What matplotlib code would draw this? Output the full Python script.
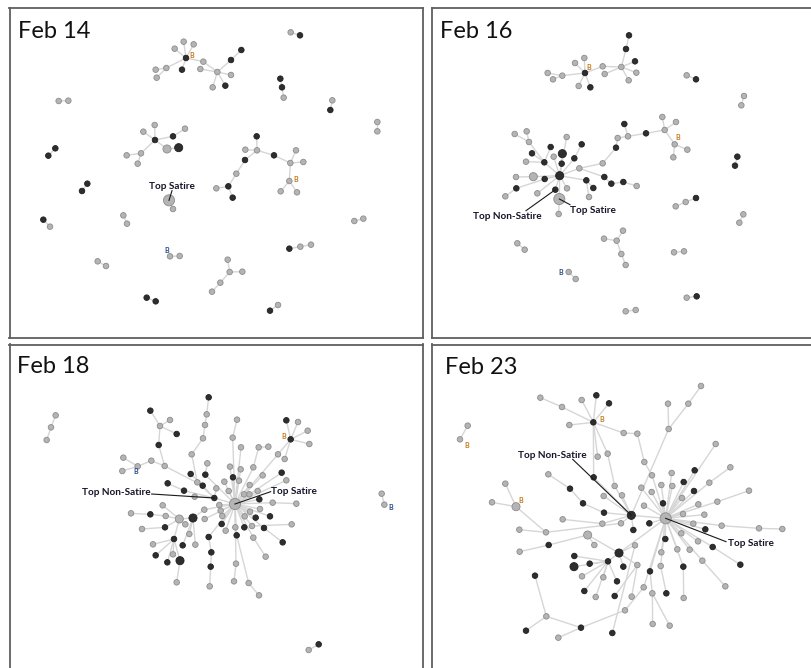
import matplotlib
matplotlib.use('Agg')
import matplotlib.pyplot as plt
from matplotlib.collections import LineCollection

plt.rcParams['font.family'] = ['Lato', 'DejaVu Sans']

# node = (x, y, kind, weight, parent) in layout units of each panel
# kind: 's' satire (grey), 'n' non-satire (dark); parent -1 = no link
feb14_nodes = [
    (872, 97, 's', 1, -1), (900, 106, 'n', 1, 0),
    (558, 174, 'n', 1, -1), (524, 146, 's', 1, 2), (551, 125, 's', 1, 2),
    (581, 133, 's', 1, 2), (546, 209, 'n', 1, 2), (499, 204, 's', 1, 2),
    (467, 209, 's', 1, 7), (470, 233, 's', 1, 7), (610, 185, 's', 1, 2),
    (652, 216, 's', 1, 10), (601, 207, 's', 1, 11), (693, 180, 'n', 1, 11),
    (724, 150, 'n', 1, 13), (693, 225, 's', 1, 11), (676, 257, 'n', 1, 11),
    (638, 262, 's', 1, 11),
    (841, 236, 'n', 1, -1), (846, 262, 'n', 1, 18), (851, 293, 's', 1, 19),
    (997, 301, 's', 1, -1), (991, 330, 'n', 1, 21),
    (1132, 366, 's', 1, -1), (1132, 394, 's', 1, 23),
    (176, 303, 's', 1, -1), (205, 302, 's', 1, 25),
    (465, 420, 'n', 1, -1), (430, 395, 's', 1, 27), (464, 375, 's', 1, 27),
    (519, 409, 'n', 1, 27), (555, 386, 's', 1, 30), (501, 447, 's', 2, 27),
    (536, 443, 'n', 2, 32), (423, 460, 's', 1, 27), (380, 466, 's', 1, 34),
    (413, 491, 's', 1, 34),
    (166, 445, 'n', 1, -1), (145, 467, 'n', 1, 37),
    (262, 551, 'n', 1, -1), (246, 573, 'n', 1, 39),
    (130, 659, 'n', 1, -1), (150, 680, 's', 1, 41),
    (507, 601, 's', 3, -1), (519, 627, 's', 1, 43),
    (370, 646, 's', 1, -1), (381, 671, 's', 1, 45),
    (770, 409, 'n', 1, 48), (771, 451, 's', 1, -1), (736, 449, 's', 1, 48),
    (822, 466, 'n', 1, 48), (871, 489, 's', 1, 50), (888, 451, 's', 1, 51),
    (910, 486, 's', 1, 51), (868, 543, 's', 1, 51), (842, 574, 's', 1, 54),
    (891, 577, 's', 1, 54), (735, 480, 'n', 1, 48), (709, 521, 's', 1, 57),
    (685, 559, 'n', 1, 58), (649, 565, 's', 1, 59), (698, 593, 'n', 1, 59),
    (1063, 663, 's', 1, -1), (1090, 656, 's', 1, 62),
    (868, 746, 'n', 1, -1), (901, 740, 's', 1, 64), (933, 734, 's', 1, 65),
    (510, 769, 's', 1, -1), (539, 768, 's', 1, 67),
    (293, 784, 's', 1, -1), (318, 798, 's', 1, 69),
    (683, 779, 's', 1, 72), (689, 816, 's', 1, -1), (727, 815, 's', 1, 72),
    (661, 848, 's', 1, 72), (636, 875, 's', 1, 74),
    (440, 893, 'n', 1, -1), (467, 904, 'n', 1, 76),
    (810, 932, 'n', 1, -1), (834, 915, 's', 1, 78),
]
feb14_extra = []
feb14_badges = [(575, 167, 'o'), (888, 537, 'o'), (500, 750, 'b')]
feb14_notes = [('Top Satire', 43, (515, 558), (516, 572))]

feb16_nodes = [
    (495, 219, 'n', 1, -1), (465, 189, 's', 1, 0), (493, 174, 's', 1, 0),
    (427, 227, 's', 1, 0), (399, 238, 's', 1, 3), (383, 219, 's', 1, 3),
    (476, 258, 's', 1, 0), (511, 262, 'n', 1, 0), (548, 199, 's', 1, 0),
    (604, 201, 's', 1, 8), (554, 222, 's', 1, 9), (618, 147, 'n', 1, 9),
    (627, 106, 'n', 1, 11), (645, 184, 'n', 1, 9), (649, 218, 's', 1, 9),
    (626, 241, 's', 1, 9),
    (800, 226, 's', 1, -1), (828, 238, 'n', 1, 16),
    (972, 288, 's', 1, -1), (964, 316, 's', 1, 18),
    (419, 527, 'n', 2, -1), (427, 461, 'n', 2, 20), (425, 491, 'n', 1, 20),
    (373, 487, 'n', 1, 20), (392, 441, 'n', 1, 23), (336, 460, 'n', 1, 23),
    (318, 485, 's', 1, 23), (327, 426, 's', 1, 23), (320, 394, 's', 1, 27),
    (284, 402, 's', 1, 27), (340, 530, 's', 2, 20), (288, 531, 's', 1, 30),
    (374, 537, 'n', 1, 20), (289, 565, 'n', 1, 32), (256, 589, 's', 1, 33),
    (352, 580, 's', 1, 20), (406, 569, 'n', 1, 20), (418, 597, 's', 3, 20),
    (416, 642, 's', 1, 37), (441, 565, 's', 1, 20), (440, 411, 's', 1, 20),
    (463, 475, 'n', 1, 20), (485, 433, 'n', 1, 41), (478, 505, 's', 1, 20),
    (499, 541, 'n', 1, 20), (520, 564, 'n', 1, 44), (507, 591, 's', 1, 44),
    (553, 531, 'n', 1, 43), (574, 551, 'n', 1, 47), (610, 546, 'n', 1, 48),
    (650, 558, 's', 1, 49), (548, 490, 's', 1, 43), (588, 443, 'n', 1, 51),
    (593, 414, 's', 1, 52), (624, 409, 's', 1, 53), (613, 372, 'n', 1, 54),
    (678, 400, 'n', 1, 54), (734, 390, 's', 1, 56), (727, 351, 's', 1, 57),
    (768, 366, 's', 1, 57), (764, 433, 's', 1, 57), (802, 449, 's', 1, 60),
    (760, 472, 's', 1, 60), (401, 470, 's', 1, 20),
    (828, 594, 'n', 1, -1), (797, 606, 's', 1, 64), (767, 619, 's', 1, 65),
    (970, 643, 's', 1, -1), (958, 668, 's', 1, 67),
    (952, 470, 'n', 1, -1), (945, 497, 'n', 1, 69),
    (609, 692, 's', 1, 72), (590, 722, 's', 1, -1), (552, 716, 's', 1, 72),
    (604, 762, 's', 1, 72), (617, 795, 's', 1, 74),
    (292, 730, 's', 1, -1), (314, 749, 's', 1, 76),
    (446, 816, 's', 1, -1), (467, 837, 's', 1, 78),
    (762, 757, 's', 1, -1), (792, 754, 's', 1, 80),
    (800, 893, 's', 1, -1), (830, 889, 'n', 1, 82),
    (617, 934, 's', 1, -1), (647, 930, 's', 1, 84),
]
feb16_extra = []
feb16_badges = [(505, 202, 'o'), (773, 412, 'o'), (423, 818, 'b')]
feb16_notes = [('Top Non-Satire', 36, (262, 648), (318, 632)),
               ('Top Satire', 37, (520, 632), (450, 614))]

feb18_nodes = [
    (705, 492, 's', 3, -1), (643, 474, 'n', 1, 0),
    (626, 172, 'n', 1, 3), (620, 223, 's', 1, 4), (615, 255, 's', 1, 5),
    (609, 295, 's', 1, 6), (575, 343, 's', 1, 7), (592, 427, 's', 1, 1),
    (622, 370, 's', 1, 9), (616, 404, 'n', 1, 0),
    (451, 212, 'n', 1, 11), (480, 258, 's', 1, 14), (510, 240, 's', 1, 11),
    (530, 282, 'n', 1, 11), (476, 315, 'n', 1, 15), (494, 378, 's', 1, 47),
    (454, 362, 's', 1, 15), (413, 379, 's', 1, 16), (370, 353, 's', 1, 17),
    (367, 393, 's', 1, 17),
    (711, 239, 's', 1, 21), (698, 293, 's', 1, 0), (723, 322, 's', 1, 0),
    (776, 322, 's', 1, 25), (805, 320, 's', 1, 23), (760, 382, 's', 1, 0),
    (859, 241, 'n', 1, 27), (872, 298, 'n', 1, 29), (894, 246, 's', 1, 27),
    (834, 343, 's', 1, 0), (923, 272, 's', 1, 27), (928, 312, 's', 1, 27),
    (854, 357, 's', 1, 27),
    (788, 406, 's', 1, 0), (845, 398, 'n', 1, 0), (859, 421, 's', 1, 0),
    (722, 388, 's', 1, 0), (690, 380, 's', 1, 0), (699, 412, 'n', 1, 0),
    (717, 422, 's', 1, 0), (673, 425, 's', 1, 0), (749, 435, 's', 1, 0),
    (773, 453, 's', 1, 0), (748, 463, 's', 1, 0), (732, 463, 's', 1, 0),
    (686, 453, 's', 1, 0), (649, 445, 's', 1, 1), (608, 437, 'n', 1, 1),
    (572, 402, 'n', 1, 47), (503, 430, 'n', 1, 50), (552, 452, 'n', 1, 1),
    (584, 470, 's', 1, 1), (658, 495, 's', 1, 0),
    (778, 478, 'n', 1, 0), (818, 488, 's', 1, 0), (889, 491, 's', 1, 54),
    (780, 507, 's', 1, 0), (810, 529, 'n', 1, 0), (767, 533, 'n', 1, 0),
    (750, 515, 's', 1, 0), (734, 529, 's', 1, 0), (756, 558, 's', 1, 0),
    (875, 553, 's', 1, 61), (733, 562, 'n', 1, 0), (706, 562, 's', 1, 0),
    (710, 586, 'n', 1, 0), (792, 564, 'n', 1, 0), (760, 593, 's', 1, 0),
    (797, 650, 's', 1, 67), (848, 607, 'n', 1, 66), (665, 552, 'n', 1, 0),
    (677, 572, 's', 1, 0), (662, 512, 's', 1, 0), (667, 528, 's', 1, 0),
    (613, 509, 's', 1, 0), (614, 537, 's', 1, 0),
    (579, 534, 'n', 2, 74), (538, 537, 's', 2, 76), (556, 553, 's', 1, 77),
    (497, 528, 's', 1, 77), (451, 523, 'n', 1, 79), (393, 520, 's', 1, 80),
    (488, 496, 's', 1, 77), (626, 591, 'n', 1, 0), (568, 582, 's', 1, 76),
    (586, 614, 's', 1, 76), (548, 616, 'n', 1, 76), (522, 597, 'n', 1, 77),
    (495, 562, 'n', 1, 77), (426, 567, 's', 1, 88), (459, 613, 's', 1, 87),
    (519, 643, 's', 1, 87), (467, 646, 'n', 1, 87), (502, 667, 'n', 1, 87),
    (540, 662, 'n', 2, 87), (530, 727, 's', 1, 94),
    (634, 637, 'n', 1, 83), (632, 680, 'n', 1, 96), (629, 739, 's', 1, 97),
    (708, 671, 's', 1, 0), (702, 724, 's', 1, 99),
    (746, 729, 's', 1, 65), (777, 766, 's', 1, 101),
    (167, 226, 's', 1, -1), (153, 262, 's', 1, 103), (140, 300, 's', 1, 104),
    (1145, 461, 's', 1, -1), (1153, 494, 's', 1, 106),
    (926, 930, 's', 1, -1), (956, 913, 'n', 1, 108),
]
feb18_extra = []
feb18_badges = [(407, 395, 'b'), (850, 290, 'o'), (1172, 503, 'b')]
feb18_notes = [('Top Non-Satire', 1, (348, 458), (455, 462)),
               ('Top Satire', 0, (883, 455), (812, 455))]

feb23_nodes = [
    (737, 535, 's', 3, -1), (634, 526, 'n', 2, 0),
    (520, 247, 'n', 1, 3), (521, 412, 'n', 1, 1),
    (361, 173, 's', 1, 5), (426, 201, 's', 1, 2), (485, 180, 's', 1, 2),
    (529, 166, 'n', 1, 2), (567, 190, 'n', 1, 2), (448, 255, 's', 1, 2),
    (611, 279, 's', 1, 2), (652, 281, 's', 1, 10), (673, 366, 's', 1, 11),
    (696, 406, 's', 1, 0), (533, 350, 's', 1, 2), (563, 341, 's', 1, 2),
    (584, 438, 's', 1, 15), (606, 466, 's', 1, 1),
    (746, 267, 's', 1, 1), (744, 191, 's', 1, 18), (805, 191, 's', 1, 18),
    (843, 138, 's', 1, 20),
    (385, 403, 's', 1, 23), (450, 446, 'n', 1, 24), (489, 490, 'n', 1, 25),
    (552, 518, 'n', 1, 1), (551, 468, 's', 1, 1), (664, 443, 's', 1, 0),
    (603, 550, 's', 1, 1), (640, 570, 'n', 1, 1), (547, 551, 's', 1, 1),
    (428, 538, 's', 1, 30), (378, 577, 's', 1, 28), (288, 500, 's', 2, 32),
    (256, 431, 's', 1, 33), (216, 487, 's', 1, 33), (298, 569, 's', 1, 32),
    (386, 615, 'n', 1, 38), (503, 585, 's', 2, 39), (597, 639, 'n', 2, 0),
    (299, 635, 's', 1, 37), (523, 615, 's', 1, 38), (564, 664, 'n', 1, 39),
    (463, 648, 'n', 1, 42), (462, 680, 'n', 2, 42), (509, 671, 'n', 1, 42),
    (486, 709, 's', 1, 42), (550, 712, 's', 1, 42), (493, 753, 'n', 1, 42),
    (527, 771, 's', 1, 42), (591, 724, 'n', 1, 42), (610, 680, 'n', 1, 39),
    (645, 616, 's', 1, 39), (652, 675, 's', 1, 39), (584, 768, 'n', 1, 53),
    (635, 770, 's', 1, 53), (671, 742, 's', 1, 0), (615, 811, 's', 1, 56),
    (483, 863, 'n', 1, 57), (415, 893, 's', 1, 58), (379, 829, 's', 1, 58),
    (318, 872, 'n', 1, 60), (345, 707, 'n', 1, 60), (577, 879, 'n', 1, 52),
    (698, 852, 's', 1, 65), (697, 760, 's', 1, 66), (690, 694, 'n', 1, 0),
    (749, 857, 's', 1, 65), (739, 760, 'n', 1, 69), (722, 678, 's', 1, 0),
    (791, 774, 's', 1, 71), (790, 680, 'n', 1, 0), (724, 637, 's', 1, 0),
    (736, 597, 'n', 1, 0), (772, 628, 's', 1, 0), (809, 629, 's', 1, 0),
    (834, 604, 's', 1, 0), (847, 662, 's', 1, 0), (916, 739, 's', 1, 77),
    (878, 621, 'n', 1, 0), (961, 674, 'n', 1, 79), (784, 580, 's', 1, 0),
    (820, 551, 's', 1, 0), (856, 568, 'n', 1, 0), (905, 557, 's', 1, 0),
    (1017, 565, 's', 1, 84), (1087, 567, 's', 1, 85), (853, 524, 's', 1, 0),
    (789, 522, 's', 1, 0), (835, 493, 's', 1, 0), (892, 485, 's', 1, 0),
    (987, 452, 's', 1, 90), (786, 474, 's', 1, 0), (729, 490, 'n', 1, 0),
    (822, 453, 'n', 1, 0), (868, 428, 's', 1, 0), (931, 382, 's', 1, 95),
    (791, 426, 'n', 1, 0), (757, 438, 's', 1, 0), (724, 435, 's', 1, 0),
    (755, 399, 's', 1, 0), (824, 391, 'n', 1, 0), (887, 312, 's', 1, 0),
    (695, 456, 's', 1, 0), (672, 497, 's', 1, 0), (688, 550, 'n', 1, 0),
    (143, 257, 's', 1, -1), (120, 298, 's', 1, 106),
]
feb23_extra = [(12, 13), (16, 1)]
feb23_badges = [(546, 238, 'o'), (140, 316, 'o'), (302, 481, 'o')]
feb23_notes = [('Top Non-Satire', 1, (397, 346), (458, 358)),
               ('Top Satire', 0, (993, 612), (918, 605))]

W, H = 811, 668
UNIT = 3  # layout units per pixel

panels = [
    dict(title='Feb 14', nodes=feb14_nodes, extra=feb14_extra, badges=feb14_badges,
         notes=feb14_notes, box=(9.5, 8, 423.5, 338), origin=(0, 0), title_at=(55, 113)),
    dict(title='Feb 16', nodes=feb16_nodes, extra=feb16_extra, badges=feb16_badges,
         notes=feb16_notes, box=(431.7, 8, 816, 338), origin=(420, 0), title_at=(60, 113)),
    dict(title='Feb 18', nodes=feb18_nodes, extra=feb18_extra, badges=feb18_badges,
         notes=feb18_notes, box=(9.5, 344.5, 423.5, 672), origin=(0, 340), title_at=(50, 100)),
    dict(title='Feb 23', nodes=feb23_nodes, extra=feb23_extra, badges=feb23_badges,
         notes=feb23_notes, box=(431.7, 344.5, 816, 672), origin=(420, 340), title_at=(75, 103)),
]

size_of = {1: 16, 2: 34, 3: 64}
face = {'s': '#b4b4b4', 'n': '#2e2e2e'}
edge = {'s': '#8c8c8c', 'n': '#1e1e1e'}
badge_col = {'o': '#c47a1e', 'b': '#2a4a8a'}

fig = plt.figure(figsize=(W / 100, H / 100), dpi=100)

for p in panels:
    L, T, R, B = p['box']
    ox, oy = p['origin']
    ax = fig.add_axes([L / W, 1 - B / H, (R - L) / W, (B - T) / H])
    ax.set_xlim((L - ox) * UNIT, (R - ox) * UNIT)
    ax.set_ylim((B - oy) * UNIT, (T - oy) * UNIT)
    ax.set_xticks([])
    ax.set_yticks([])
    for s in ax.spines.values():
        s.set_color('#5f5f5f')
        s.set_linewidth(1.3)

    nodes = p['nodes']
    segs = [[(x, y), (nodes[par][0], nodes[par][1])] for x, y, k, w, par in nodes if par >= 0]
    segs += [[nodes[a][:2], nodes[b][:2]] for a, b in p['extra']]
    ax.add_collection(LineCollection(segs, colors='#d6d6d6', linewidths=1.0, zorder=1))

    for kind in ['s', 'n']:
        sel = [n for n in nodes if n[2] == kind]
        ax.scatter([n[0] for n in sel], [n[1] for n in sel],
                   s=[size_of[n[3]] for n in sel], c=face[kind],
                   edgecolors=edge[kind], linewidths=0.6, zorder=3)

    for bx, by, c in p['badges']:
        ax.text(bx, by, 'B', fontsize=5, fontweight='bold', color=badge_col[c],
                ha='center', va='center', zorder=5)

    for label, idx, (tx, ty), (sx, sy) in p['notes']:
        ax.plot([sx, nodes[idx][0]], [sy, nodes[idx][1]], color='#1a1a1a', lw=0.8, zorder=4)
        ax.text(tx, ty, label, fontsize=7.2, fontweight='bold', color='#15152a',
                ha='center', va='center', zorder=5)

    ax.text(p['title_at'][0], p['title_at'][1], p['title'], fontsize=17,
            color='#111111', ha='left', va='baseline')

fig.savefig('out.png', dpi=100)
